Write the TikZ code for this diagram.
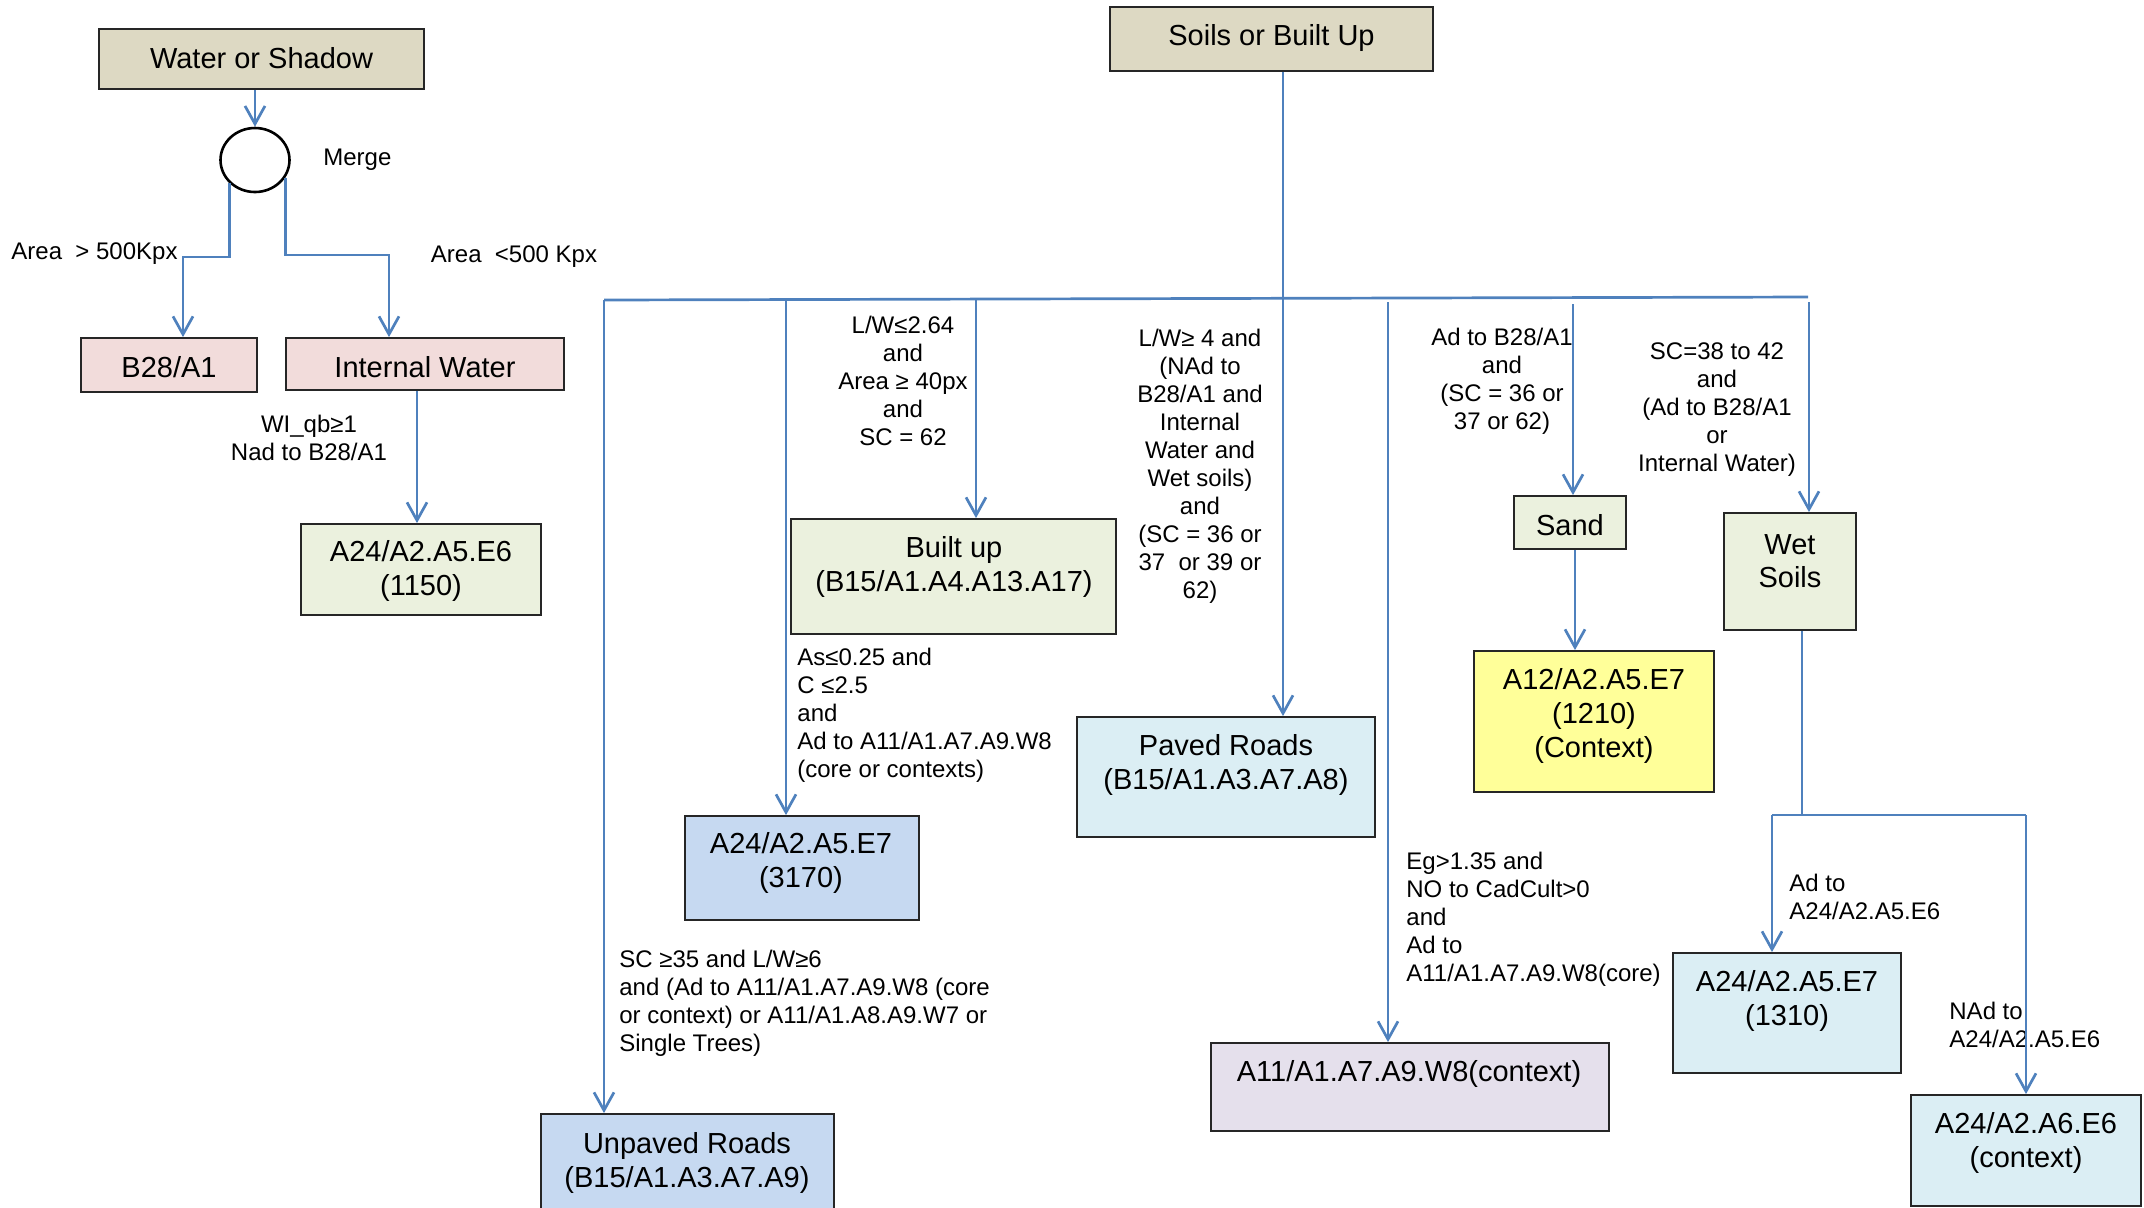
\documentclass[tikz,border=0pt]{standalone}
\usepackage{fontspec}
\setmainfont{Liberation Sans}
\usetikzlibrary{arrows.meta,shapes.geometric}
\definecolor{tanfill}{HTML}{DDD9C3}
\definecolor{pinkfill}{HTML}{F2DCDB}
\definecolor{greenfill}{HTML}{EBF1DE}
\definecolor{bluefill}{HTML}{C6D9F1}
\definecolor{cyanfill}{HTML}{DBEEF4}
\definecolor{yellowfill}{HTML}{FFFF99}
\definecolor{lavfill}{HTML}{E5E0EC}
\definecolor{lineblue}{HTML}{4F81BD}
\begin{document}
\begin{tikzpicture}[x=0.5pt,y=-0.5pt,
  box/.style={draw=black!85, line width=0.9pt, rectangle, inner sep=0pt},
  btxt/.style={font=\fontsize{14.5}{16.8}\selectfont, align=center, inner sep=0pt},
  lbl/.style={font=\fontsize{12}{14}\selectfont, align=center, inner sep=0pt},
  lbll/.style={lbl, align=left, anchor=west},
  link/.style={draw=lineblue, line width=1.35pt},
  arr/.style={link, -{Straight Barb[length=9pt,width=10pt]}}]
\useasboundingbox (0,0) rectangle (2144,1207);

% ---- boxes ----
\node[box, fill=tanfill, minimum width=162.5pt, minimum height=30pt] (water) at (261.5,59) {};
\node[btxt] (water-t) at (261.5,58) {Water or Shadow};
\node[draw=black, line width=1.3pt, ellipse, inner sep=0pt, minimum width=34.5pt, minimum height=32pt] (merge) at (255,160) {};
\node[box, fill=pinkfill, minimum width=88pt, minimum height=27pt] (b28) at (169,365) {};
\node[btxt] (b28-t) at (169,367) {B28/A1};
\node[box, fill=pinkfill, minimum width=139pt, minimum height=26pt] (intw) at (425,364) {};
\node[btxt] (intw-t) at (425,367) {Internal Water};
\node[box, fill=greenfill, minimum width=120pt, minimum height=45.5pt] (a1150) at (421,569.5) {};
\node[btxt] (a1150-t) at (421,571) {A24/A2.A5.E6\\(1150)};

\node[box, fill=tanfill, minimum width=161.5pt, minimum height=32pt] (soils) at (1271.5,39) {};
\node[btxt] (soils-t) at (1271.5,38) {Soils or Built Up};
\node[box, fill=greenfill, minimum width=162.5pt, minimum height=57.5pt] (builtup) at (953.5,576.5) {};
\node[btxt] (builtup-t) at (954,567) {Built up\\(B15/A1.A4.A13.A17)};
\node[box, fill=bluefill, minimum width=117pt, minimum height=52pt] (a3170) at (802,868) {};
\node[btxt] (a3170-t) at (801,863) {A24/A2.A5.E7\\(3170)};
\node[box, fill=bluefill, minimum width=146.5pt, minimum height=52pt] (unpaved) at (687.5,1166) {};
\node[btxt] (unpaved-t) at (687,1163) {Unpaved Roads\\(B15/A1.A3.A7.A9)};
\node[box, fill=cyanfill, minimum width=149pt, minimum height=60pt] (paved) at (1226,777) {};
\node[btxt] (paved-t) at (1226,765) {Paved Roads\\(B15/A1.A3.A7.A8)};
\node[box, fill=lavfill, minimum width=199pt, minimum height=44pt] (a11) at (1410,1087) {};
\node[btxt] (a11-t) at (1409,1074) {A11/A1.A7.A9.W8(context)};
\node[box, fill=greenfill, minimum width=56pt, minimum height=26.5pt] (sand) at (1570,522.5) {};
\node[btxt] (sand-t) at (1570,525) {Sand};
\node[box, fill=yellowfill, minimum width=120pt, minimum height=70.5pt] (a1210) at (1594,721.5) {};
\node[btxt] (a1210-t) at (1594,716) {A12/A2.A5.E7\\(1210)\\(Context)};
\node[box, fill=greenfill, minimum width=66pt, minimum height=58.5pt] (wet) at (1790,571.5) {};
\node[btxt] (wet-t) at (1790,561) {Wet\\Soils};
\node[box, fill=cyanfill, minimum width=114pt, minimum height=60pt] (a1310) at (1787,1013) {};
\node[btxt] (a1310-t) at (1787,1001) {A24/A2.A5.E7\\(1310)};
\node[box, fill=cyanfill, minimum width=115pt, minimum height=55.5pt] (a6e6) at (2026,1150.5) {};
\node[btxt] (a6e6-t) at (2026,1143) {A24/A2.A6.E6\\(context)};

% ---- labels ----
\node[lbll] (l-merge) at (323,160) {Merge};
\node[lbl] (l-big) at (94.5,254) {Area\ \ > 500Kpx};
\node[lbl] (l-small) at (514,257) {Area\ \ <500 Kpx};
\node[lbl] (l-wi) at (309,438) {WI\_qb≥1\\Nad to B28/A1};
\node[lbl] (l-bu) at (903,381) {L/W≤2.64\\and\\Area ≥ 40px\\and\\SC = 62};
\node[lbl] (l-pr) at (1200,466) {L/W≥ 4 and\\(NAd to\\B28/A1 and\\Internal\\Water and\\Wet soils)\\and\\(SC = 36 or\\37\ \ or 39 or\\62)};
\node[lbl] (l-sand) at (1502,381) {Ad to B28/A1\\and\\(SC = 36 or\\37 or 62)};
\node[lbl] (l-wet) at (1717,410) {SC=38 to 42\\and\\(Ad to B28/A1\\or\\Internal Water)};
\node[lbll] (l-3170) at (797,715) {As≤0.25 and\\C ≤2.5\\and\\Ad to A11/A1.A7.A9.W8\\(core or contexts)};
\node[lbll] (l-unp) at (619,1003) {SC ≥35 and L/W≥6\\and (Ad to A11/A1.A7.A9.W8 (core\\or context) or A11/A1.A8.A9.W7 or\\Single Trees)};
\node[lbll] (l-a11) at (1406,919) {Eg>1.35 and\\NO to CadCult>0\\and\\Ad to\\A11/A1.A7.A9.W8(core)};
\node[lbll] (l-1310) at (1789,897) {Ad to\\A24/A2.A5.E6};
\node[lbll] (l-a6) at (1949,1025) {NAd to\\A24/A2.A5.E6};

% ---- connectors, left tree ----
\draw[arr] (merge.north |- water.south) -- (merge.north);
\coordinate (jl) at (183,257);
\coordinate (jr) at (389,255);
\coordinate (iw) at (417,0);
\draw[arr] (merge.222) |- (jl) -- (jl |- b28.north);
\draw[arr] (merge.330) |- (jr) -- (jr |- intw.north);
\draw[arr] (iw |- intw.south) -- (iw |- a1150.north);

% ---- connectors, right tree ----
\coordinate (busL) at (604,300);
\coordinate (busR) at (1808,297);
\coordinate (bs) at (1283,298);
\coordinate (b2) at (786,300);
\coordinate (b3) at (976,300);
\coordinate (b5) at (1388,302);
\coordinate (b6) at (1573,304);
\coordinate (b7) at (1809,302);
\draw[link] (busL) -- (busR);
\draw[link] (bs |- soils.south) -- (bs);
\draw[arr] (busL) -- (busL |- unpaved.north);
\draw[arr] (b2) -- (b2 |- a3170.north);
\draw[arr] (b3) -- (b3 |- builtup.north);
\draw[arr] (bs) -- (bs |- paved.north);
\draw[arr] (b5) -- (b5 |- a11.north);
\draw[arr] (b6) -- (b6 |- sand.north);
\draw[arr] (b7) -- (b7 |- wet.north);
\coordinate (sd) at (1575,0);
\draw[arr] (sd |- sand.south) -- (sd |- a1210.north);
\coordinate (ws) at (1802,815);
\coordinate (wl) at (1772,815);
\coordinate (wr) at (2026,815);
\draw[link] (ws |- wet.south) -- (ws);
\draw[link] (wl) -- (wr);
\draw[arr] (wl) -- (wl |- a1310.north);
\draw[arr] (wr) -- (wr |- a6e6.north);
\end{tikzpicture}
\end{document}
